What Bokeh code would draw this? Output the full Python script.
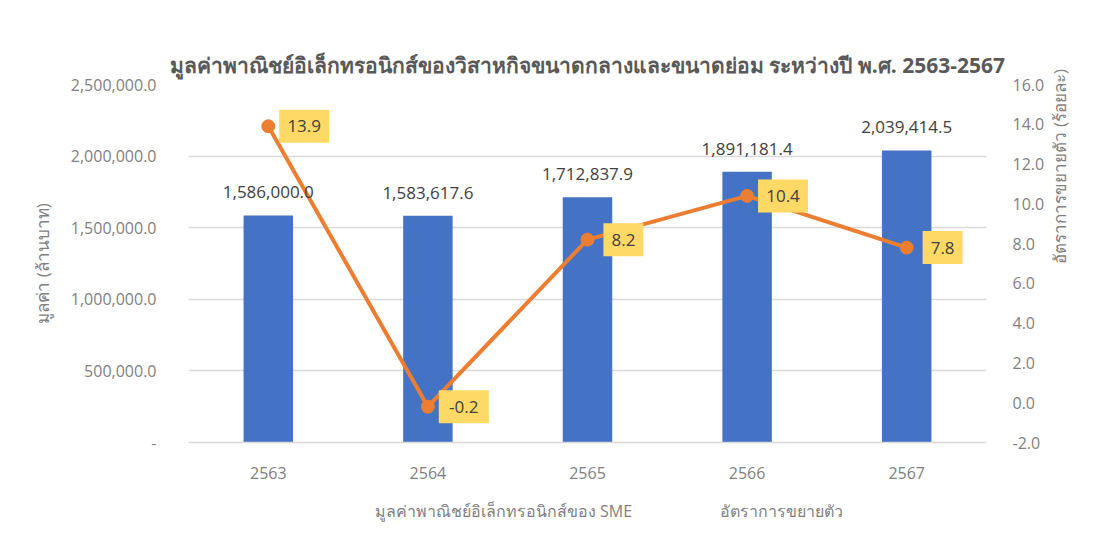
from bokeh.plotting import figure
from bokeh.layouts import column
from bokeh.models import (ColumnDataSource, FactorRange, Range1d, LinearAxis, NumeralTickFormatter,
                          FixedTicker, LabelSet, Legend, LegendItem)
from bokeh.transform import dodge
from bokeh.core.properties import value
from bokeh.embed import file_html
from bokeh.resources import INLINE
import math

years = ["2563", "2564", "2565", "2566", "2567"]
sme_values = [1586000.0, 1583617.6, 1712837.9, 1891181.4, 2039414.5]
growth_rates = [13.9, -0.2, 8.2, 10.4, 7.8]
value_labels = ["1,586,000.0", "1,583,617.6", "1,712,837.9", "1,891,181.4", "2,039,414.5"]
rate_labels = ["13.9", "-0.2", "8.2", "10.4", "7.8"]

title_text = "มูลค่าพาณิชย์อิเล็กทรอนิกส์ของวิสาหกิจขนาดกลางและขนาดย่อม ระหว่างปี พ.ศ. 2563-2567"
left_label = "มูลค่า (ล้านบาท)"
right_label = "อัตราการขยายตัว (ร้อยละ)"
bar_name = "มูลค่าพาณิชย์อิเล็กทรอนิกส์ของ SME"
line_name = "อัตราการขยายตัว"

FONT = "Open Sans"
GREY = "#7F7F7F"
DARK = "#404040"
BLUE = "#4472C4"
ORANGE = "#ED7D31"

box_w = [10 * len(s) + 10 for s in rate_labels]

src = ColumnDataSource(dict(year=years, val=sme_values, rate=growth_rates,
                            vlab=value_labels, rlab=rate_labels, bw=box_w))

p = figure(frame_width=798, frame_height=358, x_range=FactorRange(*years, range_padding=0),
           y_range=Range1d(0, 2500000), output_backend="svg", toolbar_location=None,
           min_border_left=188, min_border_right=100, min_border_top=84, min_border_bottom=0)
p.extra_y_ranges = {"rate": Range1d(-2, 16)}

p.title.text = title_text
p.title.align = "center"
p.title.vertical_align = "middle"
p.title.text_font = FONT
p.title.text_font_size = "21px"
p.title.text_font_style = "bold"
p.title.text_color = "#595959"

p.outline_line_color = None
p.background_fill_color = "white"
p.border_fill_color = "white"

p.xgrid.grid_line_color = None
p.ygrid.grid_line_color = "#D9D9D9"
p.ygrid.grid_line_width = 1.5
p.yaxis.ticker = FixedTicker(ticks=[0, 500000, 1000000, 1500000, 2000000, 2500000])

# left axis
ya = p.yaxis[0]
ya.formatter = NumeralTickFormatter(format="0,0.0")
ya.major_label_overrides = {0: "-"}
ya.axis_line_color = None
ya.major_tick_line_color = None
ya.minor_tick_line_color = None
ya.major_label_text_font = FONT
ya.major_label_text_font_size = "16px"
ya.major_label_text_color = GREY
ya.major_label_standoff = 26
ya.axis_label = left_label
ya.axis_label_text_font = FONT
ya.axis_label_text_font_size = "17px"
ya.axis_label_text_font_style = "normal"
ya.axis_label_text_color = GREY
ya.axis_label_standoff = 14

# right axis
ra = LinearAxis(y_range_name="rate", ticker=FixedTicker(ticks=list(range(-2, 17, 2))),
                formatter=NumeralTickFormatter(format="0.0"))
ra.axis_line_color = None
ra.major_tick_line_color = None
ra.minor_tick_line_color = None
ra.major_label_text_font = FONT
ra.major_label_text_font_size = "16px"
ra.major_label_text_color = GREY
ra.major_label_standoff = 20
ra.axis_label = right_label
ra.axis_label_text_font = FONT
ra.axis_label_text_font_size = "17px"
ra.axis_label_text_font_style = "normal"
ra.axis_label_text_color = GREY
ra.axis_label_standoff = 12
ra.axis_label_orientation = math.pi / 2
p.add_layout(ra, "right")

# x axis
xa = p.xaxis[0]
xa.axis_line_color = "#D9D9D9"
xa.axis_line_width = 1.5
xa.major_tick_line_color = None
xa.minor_tick_line_color = None
xa.major_label_text_font = FONT
xa.major_label_text_font_size = "16px"
xa.major_label_text_color = GREY
xa.major_label_standoff = 18

bars = p.vbar(x="year", top="val", width=0.31, source=src, fill_color=BLUE, line_color=None)
line = p.line(x="year", y="rate", source=src, y_range_name="rate", line_color=ORANGE, line_width=4)
pts = p.scatter(x="year", y="rate", source=src, y_range_name="rate", size=13,
                fill_color=ORANGE, line_color=ORANGE)

bar_lbl = LabelSet(x="year", y="val", text="vlab", source=src, text_align="center",
                   text_baseline="bottom", y_offset=17, text_font=value(FONT),
                   text_font_size="17px", text_font_style="normal", text_color=DARK)
p.add_layout(bar_lbl)

DX = 0.225
p.rect(x=dodge("year", DX, range=p.x_range), y="rate", width="bw", height=33,
       width_units="screen", height_units="screen", source=src, y_range_name="rate",
       fill_color="#FFD966", line_color=None)
rate_lbl = LabelSet(x=dodge("year", DX, range=p.x_range), y="rate", text="rlab", source=src,
                    y_range_name="rate", text_align="center", text_baseline="middle",
                    text_font=value(FONT), text_font_size="17px", text_color=DARK)
p.add_layout(rate_lbl)

# legend strip as a separate small figure below the chart
p2 = figure(width=1086, height=60, x_range=Range1d(0, 1), y_range=Range1d(0, 1),
            output_backend="svg", toolbar_location=None, min_border=0)
p2.outline_line_color = None
p2.axis.visible = False
p2.grid.visible = False
lb = p2.vbar(x=[], top=[], width=0.1, fill_color=BLUE, line_color=None)
ll = p2.line(x=[], y=[], line_color=ORANGE, line_width=4)
lp = p2.scatter(x=[], y=[], size=13, fill_color=ORANGE, line_color=ORANGE)

legend = Legend(items=[LegendItem(label=bar_name, renderers=[lb]),
                       LegendItem(label=line_name, renderers=[ll, lp])],
                orientation="horizontal", location="center", border_line_color=None,
                label_text_font=FONT, label_text_font_size="16px", label_text_color=GREY,
                glyph_width=40, glyph_height=14, spacing=44, label_standoff=4,
                margin=0, padding=2, background_fill_alpha=0)
p2.add_layout(legend, "center")

layout = column(p, p2, spacing=0)
open("out.html", "w").write(file_html(layout, INLINE))
